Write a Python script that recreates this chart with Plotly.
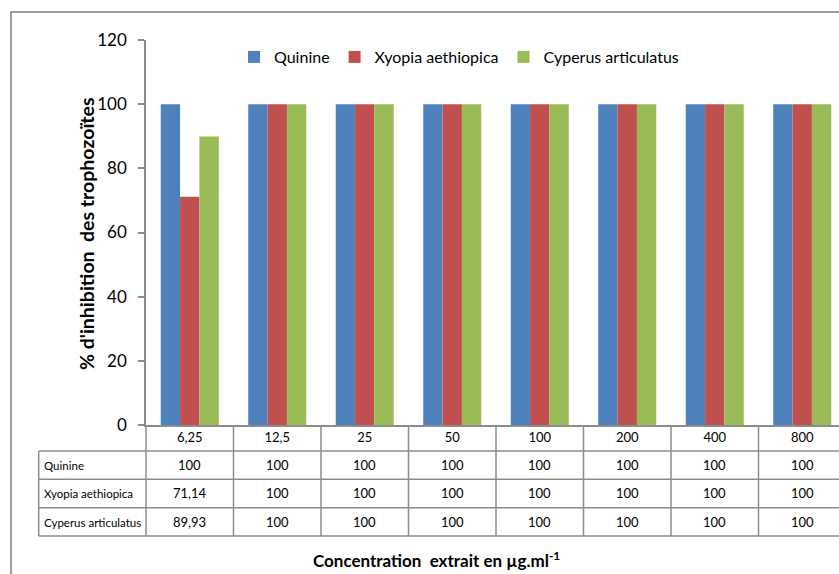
import plotly.graph_objects as go

# Concentrations (µg/ml) and % inhibition of trophozoites per treatment
categories = ["6,25", "12,5", "25", "50", "100", "200", "400", "800"]
quinine = [100, 100, 100, 100, 100, 100, 100, 100]
xyopia = [71.14, 100, 100, 100, 100, 100, 100, 100]
cyperus = [89.93, 100, 100, 100, 100, 100, 100, 100]

series = [
    ("Quinine", quinine, "#4F81BD"),
    ("Xyopia aethiopica", xyopia, "#C0504D"),
    ("Cyperus articulatus", cyperus, "#9BBB59"),
]

W, H = 839, 574
L, T, B = 146, 40, 425          # plot area pixel edges (left, top, bottom)
PW, PH = W - L, B - T
FONT = "Lato"
GRID = "#8c8c8c"
NB = "\u00a0"


def px2x(px):
    return (px - L) / PW


def px2y(py):
    return (B - py) / PH


def fmt(v):
    return f"{v:g}".replace(".", ",")


fig = go.Figure()
for name, vals, col in series:
    fig.add_trace(go.Bar(x=categories, y=vals, name=name, marker_color=col,
                         marker_line_width=0))

shapes = []
annotations = []

# outer chart frame
shapes.append(dict(type="path", xref="paper", yref="paper",
                   path=f"M {px2x(11)},{px2y(574)} L {px2x(11)},{px2y(12)} L {px2x(839)},{px2y(12)}",
                   line=dict(color="#7f7f7f", width=1.5)))

# data table below the axis
row_lines = [451, 479.3, 507.7, 536]
for py in row_lines:
    shapes.append(dict(type="line", xref="paper", yref="paper",
                       x0=px2x(38.7), x1=1.0, y0=px2y(py), y1=px2y(py),
                       line=dict(color=GRID, width=1.5)))
shapes.append(dict(type="line", xref="paper", yref="paper",
                   x0=px2x(38.7), x1=px2x(38.7), y0=px2y(451), y1=px2y(536),
                   line=dict(color=GRID, width=1.5)))
shapes.append(dict(type="line", xref="paper", yref="paper",
                   x0=0, x1=0, y0=0, y1=px2y(536),
                   line=dict(color=GRID, width=1.5)))
for k in range(len(categories) - 1):
    shapes.append(dict(type="line", xref="x", yref="paper",
                       x0=k + 0.5, x1=k + 0.5, y0=0, y1=px2y(536),
                       line=dict(color=GRID, width=1.5)))

row_centers = [465, 493.5, 522]
for (name, vals, _), cy in zip(series, row_centers):
    annotations.append(dict(xref="paper", yref="paper", x=px2x(42), y=px2y(cy),
                            text=name, showarrow=False, xanchor="left", yanchor="middle",
                            font=dict(family=FONT, size=11.5, color="#000")))
    for k, v in enumerate(vals):
        annotations.append(dict(xref="x", yref="paper", x=k, y=px2y(cy),
                                text=fmt(v), showarrow=False, xanchor="center",
                                yanchor="middle",
                                font=dict(family=FONT, size=13, color="#000")))

# axis titles
annotations.append(dict(xref="paper", yref="paper", x=px2x(436), y=px2y(559),
                        text=f"<b>Concentration{NB} extrait en µg.ml<sup>-1</sup></b>",
                        showarrow=False, xanchor="center", yanchor="middle",
                        font=dict(family=FONT, size=17, color="#000")))
annotations.append(dict(xref="paper", yref="paper", x=px2x(87), y=px2y(234),
                        text=f"<b>% d'inhibition{NB} des trophozoïtes</b>",
                        textangle=-90,
                        showarrow=False, xanchor="center", yanchor="middle",
                        font=dict(family=FONT, size=19.5, color="#000")))

fig.update_layout(
    width=W, height=H,
    margin=dict(l=L, r=0, t=T, b=H - B, pad=0),
    paper_bgcolor="white", plot_bgcolor="white",
    barmode="group", bargap=0.337, bargroupgap=0,
    font=dict(family=FONT, color="#000"),
    showlegend=True,
    legend=dict(orientation="h", x=px2x(234), y=px2y(57), xanchor="left",
                yanchor="middle", font=dict(family=FONT, size=16),
                bgcolor="rgba(0,0,0,0)", itemsizing="constant"),
    shapes=shapes, annotations=annotations,
)
fig.update_xaxes(range=[-0.5, 7.42], showline=True, linecolor=GRID, linewidth=1.5,
                 ticks="", showgrid=False, tickfont=dict(family=FONT, size=13),
                 fixedrange=True)
fig.update_yaxes(range=[0, 120], dtick=20, showline=True, linecolor=GRID, linewidth=1.5,
                 ticks="outside", ticklen=6, tickcolor=GRID, tickwidth=1.5,
                 showgrid=False, zeroline=False, tickfont=dict(family=FONT, size=17),
                 ticklabelstandoff=8, fixedrange=True)

fig.write_html("out.html")
